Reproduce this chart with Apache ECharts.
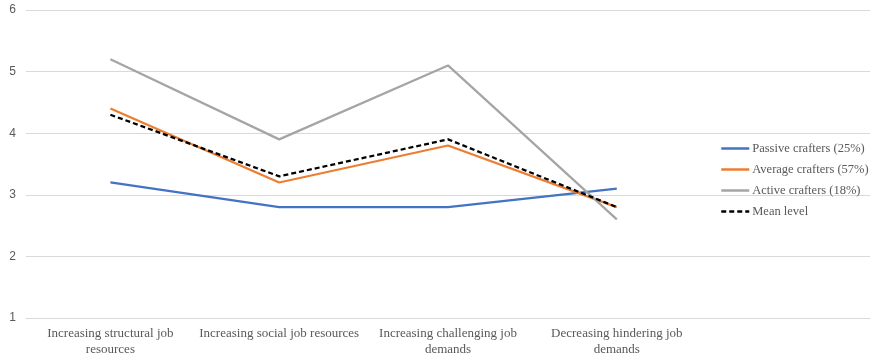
<!DOCTYPE html>
<html>
<head>
<meta charset="utf-8">
<script src="https://cdn.jsdelivr.net/npm/echarts@6/dist/echarts.min.js"></script>
<style>
  html, body { margin: 0; padding: 0; background: #fff; }
  #chart { width: 874px; height: 359px; }
</style>
</head>
<body>
<div id="chart"></div>
<script>
// categories (last slot left empty, the legend sits there)
const categories = [
  'Increasing structural job\nresources',
  'Increasing social job resources',
  'Increasing challenging job\ndemands',
  'Decreasing hindering job\ndemands',
  ''
];
const passive = [3.2, 2.8, 2.8, 3.1];
const average = [4.4, 3.2, 3.8, 2.8];
const active = [5.2, 3.9, 5.1, 2.6];
const mean = [4.3, 3.3, 3.9, 2.8];
const yTicks = [1, 2, 3, 4, 5, 6];

const serif = '"Liberation Serif", "Times New Roman", serif';

const mkLine = (name, data, color, type) => ({
  name: name,
  type: 'line',
  data: data,
  symbol: 'none',
  smooth: false,
  lineStyle: { color: color, width: 2.25, type: type || 'solid' },
  itemStyle: { color: color }
});

const options = {
  animation: false,
  grid: { left: 26, right: 4, top: 10, bottom: 41 },
  legend: {
    orient: 'vertical',
    left: 720,
    top: 142,
    padding: 0,
    itemWidth: 28,
    itemHeight: 12,
    itemGap: 8,
    itemStyle: { opacity: 0 },
    lineStyle: { width: 2.5 },
    textStyle: { fontFamily: serif, fontSize: 12.5, color: '#595959', padding: [0, 0, 0, -2] },
    data: ['Passive crafters (25%)', 'Average crafters (57%)', 'Active crafters (18%)', 'Mean level']
  },
  xAxis: {
    type: 'category',
    data: categories,
    boundaryGap: true,
    axisLine: { show: true, lineStyle: { color: '#d9d9d9', width: 1 } },
    axisTick: { show: false },
    axisLabel: {
      interval: 0,
      margin: 8,
      fontFamily: serif,
      fontSize: 13,
      lineHeight: 16,
      color: '#595959'
    }
  },
  yAxis: {
    type: 'value',
    min: yTicks[0],
    max: yTicks[yTicks.length - 1],
    interval: 1,
    axisLine: { show: false },
    axisTick: { show: false },
    axisLabel: {
      margin: 10,
      fontFamily: '"Liberation Sans", Arial, sans-serif',
      fontSize: 12,
      color: '#595959'
    },
    splitLine: { show: true, lineStyle: { color: '#d9d9d9', width: 1 } }
  },
  series: [
    mkLine('Passive crafters (25%)', passive, '#4472C4'),
    mkLine('Average crafters (57%)', average, '#ED7D31'),
    mkLine('Active crafters (18%)', active, '#A5A5A5'),
    mkLine('Mean level', mean, '#000000', [5, 3])
  ]
};

const myChart = echarts.init(document.getElementById('chart'));
myChart.setOption(options);
</script>
</body>
</html>
